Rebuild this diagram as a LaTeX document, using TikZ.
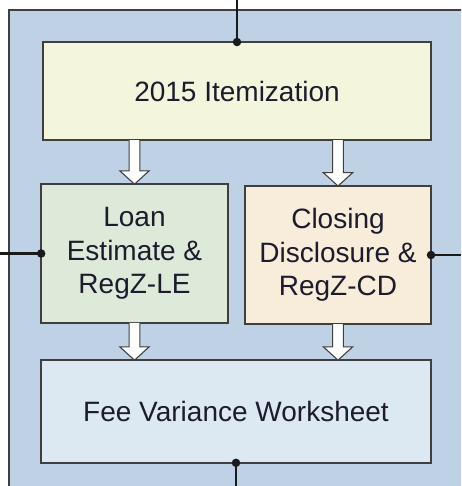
\documentclass[tikz,border=0pt]{standalone}
\usepackage{fontspec}
\setmainfont{Liberation Sans}
\usepackage{xcolor}
\definecolor{cFrame}{HTML}{BFD1E5}
\definecolor{cEdge}{HTML}{3F3F3F}
\definecolor{cLine}{HTML}{1A1A1A}
\definecolor{cItem}{HTML}{F3F6DC}
\definecolor{cLE}{HTML}{DDEADA}
\definecolor{cCD}{HTML}{F8ECDA}
\definecolor{cFV}{HTML}{DDE9F2}
\definecolor{cText}{HTML}{1C1C2C}
\usepackage{tikz}
\usetikzlibrary{calc}
\tikzset{
  node-box/.style={draw=cEdge,line width=1.1pt,align=center,outer sep=0pt,
    inner sep=2pt,font=\fontsize{21}{25}\selectfont,text=cText},
  link/.style={draw=cLine,line width=2.2pt},
  fat-arrow/.style={draw=cEdge,fill=white,line width=0.8pt,line join=miter},
}
% white block arrow, pointing down from #1 to #2
\newcommand{\fatarrow}[2]{%
  \draw[fat-arrow] let \p1=(#1), \p2=(#2) in
    (\x1-4pt,\y1) -- (\x1-4pt,\y2+10pt) -- (\x1-11pt,\y2+10pt) -- (\x1,\y2)
    -- (\x1+11pt,\y2+10pt) -- (\x1+4pt,\y2+10pt) -- (\x1+4pt,\y1);
}

\begin{document}
\begin{tikzpicture}[x=0.75pt,y=-0.75pt]
  \clip (0,0) rectangle (461,486);
  \fill[white] (0,0) rectangle (461,486);
  \draw[draw=cEdge,line width=1.1pt,fill=cFrame] (9,10) rectangle (480,500);

  \node[node-box,fill=cItem,minimum width=291pt,minimum height=73.5pt] at (237,91) (it) {2015 Itemization};
  \node[node-box,fill=cLE,minimum width=140pt,minimum height=104pt] at (134.5,253.5) (le) {Loan\\Estimate \&\\RegZ-LE};
  \node[node-box,fill=cCD,minimum width=139.5pt,minimum height=103.5pt] at (338,255) (cd) {Closing\\Disclosure \&\\RegZ-CD};
  \node[node-box,fill=cFV,minimum width=292.5pt,minimum height=77pt] at (236,411.5) (fv) {Fee Variance Worksheet};

  \fatarrow{it.south -| le.center}{le.north}
  \fatarrow{it.south -| cd.center}{cd.north}
  \fatarrow{le.south}{fv.north -| le.center}
  \fatarrow{cd.south}{fv.north -| cd.center}

  \coordinate (in-top) at (237,0);
  \coordinate (in-left) at (0,253.5);
  \coordinate (out-right) at (461,255);
  \coordinate (out-bottom) at (236,486);
  \draw[link] (in-top) -- (it.north);
  \draw[link] (in-left) -- (le.west);
  \draw[link] (cd.east) -- (out-right);
  \draw[link] (fv.south) -- (out-bottom);
  \foreach \p in {it.north,le.west,cd.east,fv.south}
    \fill[cLine] (\p) circle (3.2pt);
\end{tikzpicture}
\end{document}
